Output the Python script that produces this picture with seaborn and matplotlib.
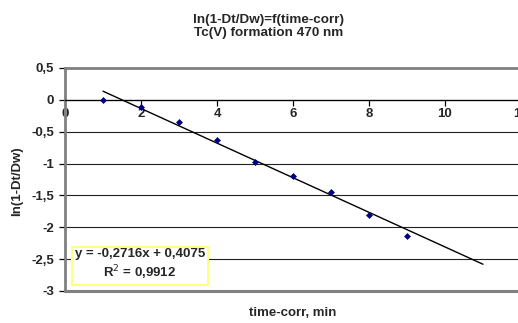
import numpy as np
import pandas as pd
import matplotlib
matplotlib.use("Agg")
import matplotlib.pyplot as plt
import seaborn as sns

# Data
time_corr = [1, 2, 3, 4, 5, 6, 7, 8, 9]
ln_values = [0.0, -0.105, -0.35, -0.63, -0.97, -1.20, -1.44, -1.80, -2.13]
slope = -0.2716
intercept = 0.4075
r_squared = 0.9912
forecast_forward = 2
x_ticks = [0, 2, 4, 6, 8, 10, 12]
y_ticks = [0.5, 0, -0.5, -1, -1.5, -2, -2.5, -3]

title = "ln(1-Dt/Dw)=f(time-corr)\nTc(V) formation 470 nm"
x_label = "time-corr, min"
y_label = "ln(1-Dt/Dw)"

sns.set_style("white")
plt.rcParams['font.family'] = ['Liberation Sans', 'DejaVu Sans']

fig = plt.figure(figsize=(5.18, 3.23), dpi=100)
ax = fig.add_axes([65 / 518, 1 - 291 / 323, (521 - 65) / 518, (291 - 68) / 323])

df = pd.DataFrame({"x": time_corr, "y": ln_values})
trend_x = np.array([time_corr[0], time_corr[-1] + forecast_forward])
trend = pd.DataFrame({"x": trend_x, "y": slope * trend_x + intercept})

sns.lineplot(data=trend, x="x", y="y", ax=ax, color="black", linewidth=1.0, zorder=4)
sns.scatterplot(data=df, x="x", y="y", ax=ax, marker="D", s=9, color="#000080",
                edgecolor="#000080", linewidth=0.5, zorder=5)

# spines (position first: it resets the tick objects)
ax.spines["bottom"].set_position(("data", 0))
ax.spines["bottom"].set_color("black")
ax.spines["bottom"].set_linewidth(0.9)
ax.spines["top"].set_color("#808080")
ax.spines["top"].set_linewidth(2)
ax.spines["left"].set_color("#808080")
ax.spines["left"].set_linewidth(2)
ax.spines["right"].set_visible(False)

ax.set_xlim(0, 12)
ax.set_ylim(-3, 0.5)
ax.set_xticks(x_ticks)
ax.set_yticks(y_ticks)

def fmt(v):
    return ("%g" % v).replace(".", ",")

ax.set_xticklabels([fmt(v) for v in x_ticks], fontsize=9.5, fontweight="bold")
ax.set_yticklabels([fmt(v) for v in y_ticks], fontsize=9.5, fontweight="bold")

ax.grid(axis="y", color="#222222", linewidth=0.8, zorder=0)
ax.grid(axis="x", visible=False)
ax.set_axisbelow(True)
ax.axhline(-3, color="#808080", linewidth=2.2, zorder=3, clip_on=False)

ax.tick_params(axis="x", direction="out", length=4, width=0.9, color="black", pad=2,
               bottom=True)
ax.tick_params(axis="y", direction="out", length=4, width=0.9, color="black", pad=4,
               left=True)

ax.set_xlabel("")
ax.set_ylabel("")
fig.text(293 / 518, 1 - 313 / 323, x_label, ha="center", va="center",
         fontsize=9.5, fontweight="bold")
fig.text(17 / 518, 1 - 181 / 323, y_label, ha="center", va="center",
         rotation=90, fontsize=9.5, fontweight="bold")
fig.text(269 / 518, 1 - 26.5 / 323, title, ha="center", va="center",
         fontsize=9.7, fontweight="bold", linespacing=1.15)

eq = "y = %sx + %s\nR$^{2}$ = %s" % (fmt(slope), fmt(intercept), fmt(r_squared))
ax.text(140 / 518, 1 - 265 / 323, eq, transform=fig.transFigure, ha="center",
        va="center", fontsize=9.5, fontweight="bold", linespacing=1.25, zorder=6,
        multialignment="center",
        bbox=dict(boxstyle="square,pad=0.2", facecolor="white",
                  edgecolor="#FFFF80", linewidth=1.5))

fig.savefig("out.png", dpi=100)
